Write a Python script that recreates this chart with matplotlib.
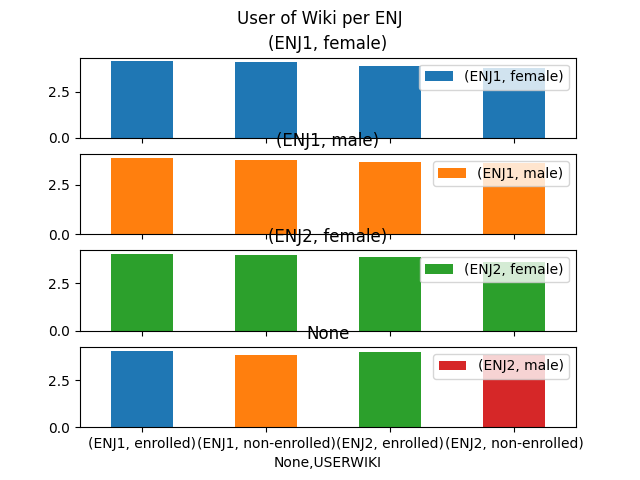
import matplotlib
matplotlib.use("Agg")
import matplotlib.pyplot as plt
import numpy as np

categories = ['(ENJ1, enrolled)', '(ENJ1, non-enrolled)', '(ENJ2, enrolled)', '(ENJ2, non-enrolled)']
series_names = ['(ENJ1, female)', '(ENJ1, male)', '(ENJ2, female)', '(ENJ2, male)']
panel_titles = ['(ENJ1, female)', '(ENJ1, male)', '(ENJ2, female)', 'None']
enj1_female = [4.13, 4.08, 3.88, 3.77]
enj1_male = [3.87, 3.77, 3.67, 3.63]
enj2_female = [4.02, 3.98, 3.87, 3.60]
enj2_male = [4.00, 3.85, 3.95, 3.81]
# bars drawn over the last panel (one per colour, first three categories)
last_overlay = [4.06, 3.81, 4.00]

values = [enj1_female, enj1_male, enj2_female, enj2_male]
colors = ['#1f77b4', '#ff7f0e', '#2ca02c', '#d62728']

fig, axes = plt.subplots(4, 1, sharex=True, figsize=(6.4, 4.8), dpi=100)
x = np.arange(len(categories))
for i, ax in enumerate(axes):
    ax.bar(x, values[i], width=0.5, color=colors[i], label=series_names[i])
    if i == 3:
        for j, h in enumerate(last_overlay):
            ax.bar(x[j], h, width=0.5, color=colors[j])
    ax.set_title(panel_titles[i])
    ax.set_yticks([0, 2.5])
    ax.set_yticklabels(['0.0', '2.5'])
    ax.legend(loc='upper right')
    ax.set_xlim(-0.5, len(categories) - 0.5)

axes[-1].set_xticks(x)
axes[-1].set_xticklabels(categories, rotation=0)
axes[-1].set_xlabel('None,USERWIKI')
fig.suptitle('User of Wiki per ENJ')
fig.savefig('out.png', dpi=100)
